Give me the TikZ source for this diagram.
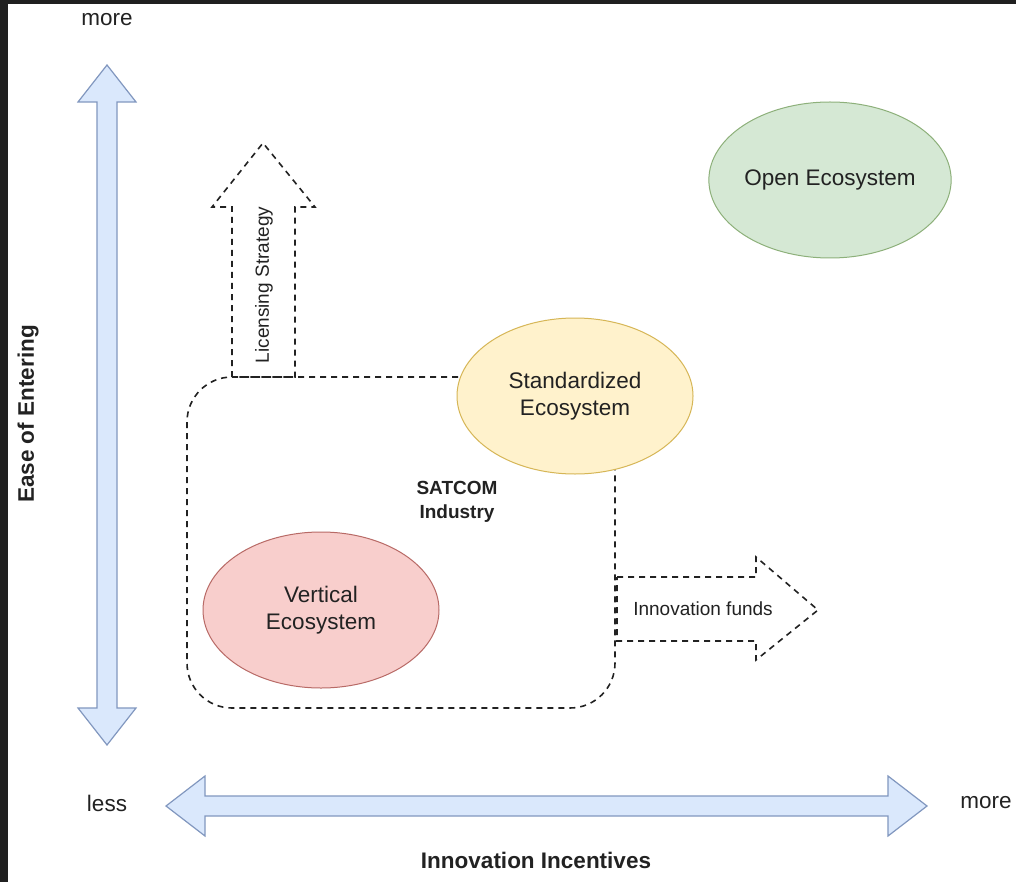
\documentclass[tikz,border=0pt]{standalone}
\usepackage{fontspec}
\setmainfont{Liberation Sans}
\usetikzlibrary{shapes.geometric}
\definecolor{axisfill}{HTML}{DAE8FC}
\definecolor{axisline}{HTML}{8197BF}
\definecolor{openfill}{HTML}{D5E8D4}
\definecolor{openline}{HTML}{8DB07A}
\definecolor{stdfill}{HTML}{FFF2CC}
\definecolor{stdline}{HTML}{D6B656}
\definecolor{vertfill}{HTML}{F8CECC}
\definecolor{vertline}{HTML}{B86A66}
\definecolor{textgray}{HTML}{222222}
\definecolor{frame}{HTML}{202020}
\tikzset{
  eco/.style={ellipse, draw, line width=1pt, minimum width=236pt, minimum height=156pt,
    inner sep=0pt, align=center, text=textgray, font=\fontsize{22.5}{27}\selectfont},
  axisarrow/.style={draw=axisline, fill=axisfill, line width=1.2pt, line join=miter},
  dashline/.style={draw=textgray, line width=1.6pt, dash pattern=on 6pt off 5pt},
  lbl/.style={text=textgray, inner sep=0pt, font=\fontsize{22.5}{27}\selectfont},
  boldlbl/.style={lbl, font=\fontsize{22.5}{27}\selectfont\bfseries},
  smalllbl/.style={text=textgray, inner sep=0pt, font=\fontsize{19}{23}\selectfont}
}
\begin{document}
\begin{tikzpicture}[x=1pt, y=-1pt]
		% frame
		\fill[frame] (0,0) rectangle (1016,882);
		\fill[white] (8,4) rectangle (1016,882);
		\useasboundingbox (0,0) rectangle (1016,882);
		% axis
		\draw[axisarrow] (97,102) -- (78,102) -- (107,65) -- (136,102) -- (117,102)
			-- (117,708) -- (136,708) -- (107,745) -- (78,708) -- (97,708) -- cycle;
		\draw[axisarrow] (205,796) -- (205,776) -- (166,806) -- (205,836) -- (205,816)
			-- (888,816) -- (888,836) -- (927,806) -- (888,776) -- (888,796) -- cycle;
		\node[lbl] (yMore) at (107,20) {more};
		\node[lbl] (xLess) at (107,803) {less};
		\node[lbl] (xMore) at (986,803) {more};
		\node[boldlbl] (xTitle) at (536,860) {Innovation Incentives};
		\node[boldlbl, rotate=90] (yTitle) at (28,414) {Ease of Entering};
		% SATCOM industry
		\draw[dashline, rounded corners=45pt] (187,377) rectangle (615,708);
		\node[smalllbl, font=\fontsize{19}{24}\selectfont\bfseries, align=center] (satcom) at (457,502) {SATCOM\\Industry};
		% strategies
		\draw[dashline] (232,377) -- (232,207) -- (212,207) -- (263,143) -- (315,207)
			-- (295,207) -- (295,377) -- cycle;
		\node[smalllbl, rotate=90] (licensing) at (264,285) {Licensing Strategy};
		\draw[dashline] (617,577) -- (756,577) -- (756,557) -- (818,610) -- (756,660)
			-- (756,641) -- (617,641) -- cycle;
		\node[smalllbl] (funds) at (703,609) {Innovation funds};
		% ecosystems
		\node[eco, draw=vertline, fill=vertfill] (vertical) at (321,610) {Vertical\\Ecosystem};
		\node[eco, draw=stdline, fill=stdfill] (standardized) at (575,396) {Standardized\\Ecosystem};
		\node[eco, draw=openline, fill=openfill] (open) at (830,180) {Open Ecosystem};
\end{tikzpicture}
\end{document}
